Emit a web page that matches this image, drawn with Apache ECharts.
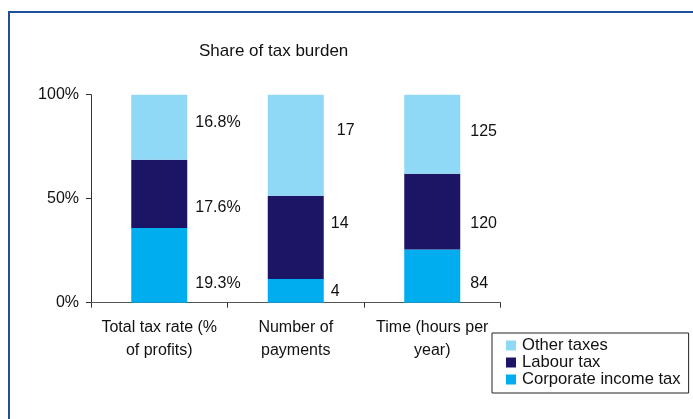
<!DOCTYPE html>
<html>
<head>
<meta charset="utf-8">
<script src="https://cdn.jsdelivr.net/npm/echarts@6/dist/echarts.min.js"></script>
<style>
  html, body { margin: 0; padding: 0; background: #fff; }
  #chart { width: 693px; height: 419px; }
</style>
</head>
<body>
<div id="chart"></div>
<script>
// raw values per category, bars are drawn as share of the column total
const categories = ['Total tax rate (%\nof profits)', 'Number of\npayments', 'Time (hours per\nyear)'];
const corporateTax = [19.3, 4, 84];
const labourTax = [17.6, 14, 120];
const otherTaxes = [16.8, 17, 125];
const yTicks = [0, 50, 100];

const totals = categories.map((c, i) => corporateTax[i] + labourTax[i] + otherTaxes[i]);
const share = (arr) => arr.map((v, i) => v / totals[i] * 100);

const fmt = (raw) => (i) => (i === 0 ? raw[i].toFixed(1) + '%' : String(raw[i]));

// label nudges to sit like in the original
const nudges = {
  corp: [[0, 18], [-1, 1], [2, 7]],
  labour: [[0, 14], [-1, -14], [2, 12]],
  other: [[0, -5], [5, -15], [2, -3]]
};

function makeSeries(name, raw, color, key) {
  const pct = share(raw);
  const label = fmt(raw);
  return {
    name: name,
    type: 'bar',
    stack: 'total',
    barWidth: 56,
    itemStyle: { color: color },
    data: pct.map((v, i) => ({
      value: v,
      label: {
        show: true,
        position: 'right',
        distance: 8,
        offset: nudges[key][i],
        formatter: () => label(i),
        color: '#111',
        fontSize: 16,
        fontFamily: 'Liberation Sans'
      }
    }))
  };
}

const chart = echarts.init(document.getElementById('chart'));
chart.setOption({
  animation: false,
  backgroundColor: '#fff',
  textStyle: { fontFamily: 'Liberation Sans' },
  graphic: [{
    type: 'rect',
    shape: { x: 9, y: 12, width: 800, height: 800 },
    style: { fill: 'none', stroke: '#1f4f96', lineWidth: 2 },
    silent: true
  }],
  title: {
    text: 'Share of tax burden',
    left: 194,
    top: 38,
    textStyle: { fontSize: 17, fontWeight: 'normal', color: '#111', fontFamily: 'Liberation Sans' }
  },
  legend: {
    orient: 'vertical',
    left: 492,
    top: 333,
    data: ['Other taxes', 'Labour tax', 'Corporate income tax'],
    itemWidth: 10,
    itemHeight: 10,
    itemGap: 0,
    icon: 'rect',
    borderColor: '#222',
    borderWidth: 1,
    backgroundColor: '#fff',
    padding: [4, 8, 5, 14],
    textStyle: { fontSize: 16.6, lineHeight: 16, color: '#111', fontFamily: 'Liberation Sans', padding: [0, 0, 0, 1] }
  },
  grid: { left: 91, right: 192.5, top: 94.7, bottom: 116.3 },
  xAxis: {
    type: 'category',
    data: categories,
    axisLine: { lineStyle: { color: '#555', width: 1 } },
    axisTick: { show: true, length: 5, lineStyle: { color: '#333' } },
    axisLabel: { margin: 13, fontSize: 16, lineHeight: 23, color: '#111', interval: 0 }
  },
  yAxis: {
    type: 'value',
    min: yTicks[0],
    max: yTicks[yTicks.length - 1],
    interval: yTicks[1] - yTicks[0],
    splitLine: { show: false },
    axisLine: { show: true, lineStyle: { color: '#333', width: 1 } },
    axisTick: { show: true, length: 5, lineStyle: { color: '#333' } },
    axisLabel: { margin: 12, fontSize: 16, color: '#111', formatter: '{value}%' }
  },
  series: [
    makeSeries('Corporate income tax', corporateTax, '#00aeef', 'corp'),
    makeSeries('Labour tax', labourTax, '#1c1464', 'labour'),
    makeSeries('Other taxes', otherTaxes, '#8fd9f7', 'other')
  ]
});
</script>
</body>
</html>
